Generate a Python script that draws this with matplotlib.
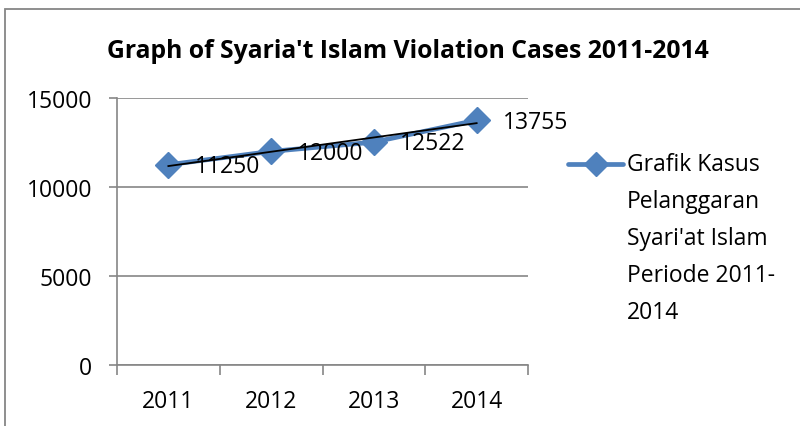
import matplotlib
matplotlib.use("Agg")
import matplotlib.pyplot as plt
import numpy as np
from matplotlib.lines import Line2D
from matplotlib.patches import Rectangle

years = ["2011", "2012", "2013", "2014"]
cases = [11250, 12000, 12522, 13755]
yticks = [0, 5000, 10000, 15000]
title = "Graph of Syaria't Islam Violation Cases 2011-2014"
legend_lines = ["Grafik Kasus", "Pelanggaran", "Syari'at Islam", "Periode 2011-", "2014"]

blue = "#4F81BD"
grey = "#868686"
fs = 16.5
plt.rcParams['font.family'] = ['Open Sans', 'DejaVu Sans']

fig = plt.figure(figsize=(8, 4.27), dpi=100)
ax = fig.add_axes([117/800, 1 - 366/427, (528 - 117)/800, (366 - 99)/427])

# chart area border
fig.add_artist(Rectangle((5/800, -0.1), 1.2, 1.1 - 10/427, transform=fig.transFigure,
                         fill=False, edgecolor=grey, linewidth=1.3))

x = np.arange(1, len(years) + 1)
ax.plot(x, cases, color=blue, linewidth=3.4, marker="D", markersize=13,
        markeredgecolor=blue, markerfacecolor=blue, zorder=3)

# linear trendline
k, b = np.polyfit(x, cases, 1)
ax.plot(x, k * x + b, color="black", linewidth=1.3, zorder=4)

for xi, v in zip(x, cases):
    ax.annotate(str(v), (xi, v), xytext=(19, -1), textcoords="offset points",
                va="center", ha="left", fontsize=fs, zorder=5)

ax.set_xlim(0.5, len(years) + 0.5)
ax.set_ylim(0, 15000)
ax.set_yticks(yticks)
ax.set_xticks(x)
ax.set_xticklabels(years)
ax.set_xticks(np.arange(0.5, len(years) + 1), minor=True)
ax.tick_params(axis="x", which="major", length=0, pad=17, labelsize=fs)
ax.tick_params(axis="x", which="minor", length=7, width=1.2, color=grey, direction="out")
ax.tick_params(axis="y", length=6, width=1.2, color=grey, pad=12, labelsize=fs)
ax.grid(axis="y", color=grey, linewidth=1.2)
ax.set_axisbelow(True)
for s in ["top", "right"]:
    ax.spines[s].set_visible(False)
for s in ["left", "bottom"]:
    ax.spines[s].set_color(grey)
    ax.spines[s].set_linewidth(1.2)

fig.text(408/800, 1 - 52/427, title, ha="center", va="center", fontsize=17.8, fontweight="bold")

# legend
fig.add_artist(Line2D([568/800, 623/800], [1 - 165/427] * 2, transform=fig.transFigure,
                      color=blue, linewidth=3.4, solid_capstyle="round"))
fig.add_artist(Line2D([595.5/800], [1 - 165/427], transform=fig.transFigure,
                      color=blue, marker="D", markersize=12, linestyle="none"))
for i, line in enumerate(legend_lines):
    fig.text(627/800, 1 - (165 + 37 * i)/427, line, ha="left", va="center", fontsize=fs)

fig.savefig("out.png", dpi=100)
